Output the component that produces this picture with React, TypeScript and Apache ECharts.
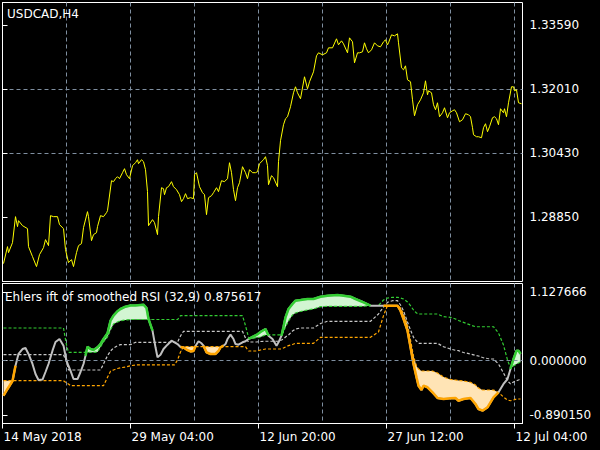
import { useEffect, useRef } from "react";
import * as echarts from "echarts";

// ---- price panel (USDCAD H4), x = bar index ----
const priceBar = [
  1, 5, 6, 10, 13, 15, 16, 20, 25, 26, 30, 34, 37, 41, 43, 46, 48, 51, 55, 57,
  61, 63, 66, 69, 71, 74, 76, 79, 81, 85, 86, 89, 91, 94, 95, 98, 101, 104, 105, 109,
  111, 113, 115, 117, 120, 122, 124, 127, 130, 133, 135, 136, 139, 141, 143, 145, 146, 150, 152, 155,
  156, 159, 161, 162, 164, 166, 169, 171, 174, 177, 179, 181, 183, 185, 188, 191, 192, 194, 197, 200,
  202, 204, 206, 209, 211, 214, 216, 219, 222, 225, 227, 229, 231, 233, 235, 237, 240, 243, 245, 247,
  250, 253, 255, 257, 261, 263, 265, 266, 269, 271, 275, 276, 278, 281, 283, 285, 288, 291, 293, 295,
  298, 302, 305, 307, 311, 314, 316, 320, 324, 326, 330, 334, 336, 339, 341, 345, 347, 350, 352, 355,
  357, 360, 362, 364, 366, 369, 372, 375, 378, 381, 383, 385, 386, 389, 392, 395, 396, 399, 401, 403,
  405, 408, 410, 412, 415, 418, 421, 423, 425, 426, 429, 431, 433, 435, 437, 440, 442, 445, 447, 450,
  452, 454, 457, 460, 463, 466, 468, 470, 471, 474, 476, 479, 481, 483, 485, 487, 490, 492, 494, 496,
  498, 501, 502, 504, 506, 509, 511, 512, 514, 516, 519,
];
const priceVal = [
  1.27711, 1.28129, 1.27981, 1.28227, 1.28867, 1.28621, 1.28768, 1.28645, 1.28572, 1.28129,
  1.27883, 1.27637, 1.27932, 1.28104, 1.28301, 1.28153, 1.28891, 1.28867, 1.28867, 1.2867,
  1.28572, 1.28055, 1.27735, 1.27809, 1.27637, 1.27981, 1.28153, 1.28203, 1.28596, 1.2899,
  1.28867, 1.28276, 1.28424, 1.28473, 1.28621, 1.28891, 1.28867, 1.28965, 1.29014, 1.29752,
  1.29728, 1.29802, 1.29851, 1.29802, 1.29949, 1.30048, 1.299, 1.29802, 1.30121, 1.30195,
  1.30269, 1.30171, 1.30269, 1.3022, 1.30023, 1.29482, 1.28645, 1.28793, 1.28719, 1.28424,
  1.28867, 1.2958, 1.29556, 1.29408, 1.2958, 1.29605, 1.29728, 1.29605, 1.29531, 1.29408,
  1.29236, 1.2931, 1.29433, 1.2931, 1.29334, 1.2931, 1.299, 1.29949, 1.29605, 1.29457,
  1.29408, 1.28916, 1.29334, 1.29383, 1.29457, 1.2958, 1.29482, 1.29752, 1.29728, 1.29802,
  1.30195, 1.29949, 1.29531, 1.2926, 1.2958, 1.29703, 1.30097, 1.29949, 1.29802, 1.30023,
  1.29949, 1.29949, 1.29974, 1.30171, 1.30269, 1.30343, 1.30121, 1.29654, 1.29875, 1.29826,
  1.29605, 1.3022, 1.30736, 1.3113, 1.31278, 1.31327, 1.31573, 1.31917, 1.32065, 1.31917,
  1.3177, 1.32311, 1.32016, 1.32188, 1.32434, 1.32827, 1.32901, 1.32852, 1.32901, 1.33024,
  1.33024, 1.33246, 1.33098, 1.33196, 1.33123, 1.32901, 1.3327, 1.33172, 1.32655, 1.32901,
  1.32901, 1.32926, 1.33147, 1.33, 1.32901, 1.32975, 1.33147, 1.33073, 1.33049, 1.33172,
  1.33221, 1.33098, 1.33147, 1.33344, 1.33319, 1.33369, 1.33147, 1.32532, 1.32483, 1.32581,
  1.32237, 1.32188, 1.31745, 1.31351, 1.31622, 1.31745, 1.31917, 1.32212, 1.31868, 1.31966,
  1.31917, 1.31622, 1.31499, 1.31671, 1.31327, 1.31425, 1.31548, 1.31302, 1.31425, 1.31474,
  1.31499, 1.31425, 1.31204, 1.31253, 1.31401, 1.31376, 1.31327, 1.31056, 1.30884, 1.30835,
  1.30835, 1.3081, 1.31056, 1.31155, 1.30958, 1.31081, 1.31302, 1.31327, 1.31278, 1.3113,
  1.31524, 1.31425, 1.31524, 1.31327, 1.31671, 1.32065, 1.32065, 1.31966, 1.31991, 1.31671,
  1.31647,
];

// ---- indicator panel ----
const indBar = [
  1, 5, 10, 13, 16, 20, 23, 26, 30, 33,
  36, 40, 43, 46, 50, 53, 57, 61, 64, 66,
  68, 71, 75, 78, 81, 83, 85, 88, 91, 95,
  98, 101, 105, 108, 111, 115, 118, 123, 128, 133,
  138, 141, 144, 146, 150, 153, 155, 158, 161, 165,
  169, 172, 175, 178, 181, 184, 188, 191, 193, 196,
  199, 201, 204, 208, 213, 216, 218, 221, 223, 225,
  228, 231, 233, 236, 240, 243, 246, 250, 254, 258,
  263, 266, 270, 274, 276, 279, 281, 283, 286, 290,
  293, 298, 305, 311, 318, 325, 335, 341, 348, 353,
  361, 368, 376, 381, 385, 390, 395, 398, 401, 405,
  408, 411, 414, 416, 419, 421, 425, 430, 435, 441,
  448, 453, 456, 461, 468, 473, 476, 480, 485, 488,
  491, 496, 501, 505, 508, 511, 514, 516, 518,
];
const indMain = [
  -0.573, -0.463, -0.332, -0.082, 0.11, 0.191, 0.208, 0.11, -0.054, -0.218,
  -0.316, -0.308, -0.185, -0.054, 0.164, 0.306, 0.355, 0.246, 0, -0.087,
  -0.164, -0.3, -0.3, -0.185, -0.054, 0.082, 0.229, 0.191, 0.175, 0.219,
  0.273, 0.355, 0.448, 0.655, 0.737, 0.809, 0.846, 0.884, 0.903, 0.903,
  0.912, 0.917, 0.863, 0.683, 0.491, 0.219, 0.056, 0.098, 0.191, 0.262,
  0.327, 0.301, 0.273, 0.224, 0.216, 0.183, 0.151, 0.159, 0.241, 0.318,
  0.285, 0.246, 0.137, 0.11, 0.11, 0.159, 0.219, 0.246, 0.273, 0.355,
  0.426, 0.355, 0.273, 0.262, 0.301, 0.318, 0.355, 0.388, 0.421, 0.47,
  0.519, 0.409, 0.355, 0.246, 0.301, 0.409, 0.556, 0.71, 0.846, 0.928,
  0.982, 0.993, 1.01, 1.01, 1.047, 1.064, 1.075, 1.064, 1.047, 1.01,
  0.956, 0.9, 0.9, 0.9, 0.9, 0.9, 0.9, 0.818, 0.683, 0.491,
  0.219, -0.054, -0.272, -0.409, -0.48, -0.409, -0.435, -0.517, -0.61, -0.627,
  -0.615, -0.61, -0.655, -0.627, -0.61, -0.709, -0.791, -0.818, -0.763, -0.681,
  -0.599, -0.517, -0.381, -0.3, -0.136, 0.028, 0.164, 0.164, 0.11,
];
const indUpper = [
  0.535, 0.535, 0.535, 0.535, 0.535, 0.535, 0.535, 0.535, 0.535, 0.535,
  0.535, 0.535, 0.535, 0.535, 0.535, 0.535, 0.535, 0.535, 0.257, 0.137,
  0.137, 0.137, 0.137, 0.137, 0.137, 0.137, 0.137, 0.137, 0.137, 0.142,
  0.224, 0.306, 0.388, 0.502, 0.601, 0.633, 0.655, 0.666, 0.674, 0.674,
  0.674, 0.674, 0.674, 0.674, 0.674, 0.674, 0.674, 0.674, 0.674, 0.674,
  0.674, 0.674, 0.674, 0.737, 0.737, 0.737, 0.737, 0.737, 0.737, 0.737,
  0.737, 0.737, 0.737, 0.737, 0.737, 0.737, 0.737, 0.737, 0.737, 0.737,
  0.737, 0.737, 0.737, 0.737, 0.737, 0.573, 0.383, 0.363, 0.38, 0.388,
  0.421, 0.421, 0.421, 0.421, 0.421, 0.421, 0.47, 0.552, 0.65, 0.748,
  0.781, 0.805, 0.83, 0.846, 0.884, 0.89, 0.89, 0.89, 0.89, 0.89,
  0.89, 0.903, 0.903, 0.993, 1.026, 1.038, 1.038, 1.026, 1.01, 0.961,
  0.9, 0.83, 0.781, 0.764, 0.764, 0.764, 0.764, 0.764, 0.764, 0.72,
  0.71, 0.683, 0.658, 0.628, 0.584, 0.556, 0.556, 0.556, 0.556, 0.556,
  0.556, 0.453, 0.257, 0.011, -0.119, -0.087, -0.054, -0.038, -0.021,
];
const indMid = [
  0.098, 0.098, 0.098, 0.098, 0.098, 0.098, 0.098, 0.098, 0.098, 0.098,
  0.098, 0.098, 0.098, 0.098, 0.098, 0.098, 0.098, 0.098, -0.021, -0.152,
  -0.152, -0.152, -0.152, -0.152, -0.152, -0.152, -0.152, -0.152, -0.152, -0.152,
  -0.152, -0.054, 0.082, 0.159, 0.208, 0.246, 0.262, 0.262, 0.262, 0.301,
  0.301, 0.301, 0.301, 0.301, 0.301, 0.301, 0.301, 0.301, 0.301, 0.301,
  0.301, 0.301, 0.301, 0.404, 0.481, 0.481, 0.481, 0.481, 0.481, 0.481,
  0.481, 0.481, 0.481, 0.481, 0.481, 0.481, 0.481, 0.481, 0.481, 0.481,
  0.481, 0.481, 0.481, 0.481, 0.481, 0.372, 0.306, 0.306, 0.306, 0.314,
  0.318, 0.318, 0.318, 0.318, 0.318, 0.339, 0.355, 0.388, 0.421, 0.486,
  0.519, 0.535, 0.535, 0.535, 0.609, 0.645, 0.645, 0.645, 0.645, 0.645,
  0.645, 0.645, 0.764, 0.879, 0.956, 0.982, 0.982, 0.912, 0.818, 0.633,
  0.502, 0.383, 0.322, 0.285, 0.285, 0.285, 0.285, 0.285, 0.285, 0.229,
  0.191, 0.17, 0.164, 0.134, 0.11, 0.088, 0.077, 0.052, 0.036, 0.028,
  0.028, -0.054, -0.201, -0.327, -0.381, -0.349, -0.327, -0.316, -0.3,
];
const indLower = [
  -0.327, -0.327, -0.327, -0.327, -0.327, -0.327, -0.327, -0.327, -0.327, -0.327,
  -0.327, -0.327, -0.327, -0.327, -0.327, -0.327, -0.327, -0.327, -0.365, -0.381,
  -0.409, -0.409, -0.409, -0.409, -0.409, -0.409, -0.409, -0.409, -0.409, -0.409,
  -0.409, -0.409, -0.272, -0.173, -0.152, -0.128, -0.115, -0.103, -0.082, -0.07,
  -0.07, -0.07, -0.07, -0.07, -0.07, -0.07, -0.07, -0.07, -0.07, -0.07,
  -0.07, -0.07, 0.011, 0.142, 0.229, 0.229, 0.229, 0.229, 0.229, 0.229,
  0.229, 0.229, 0.229, 0.229, 0.229, 0.229, 0.229, 0.229, 0.229, 0.229,
  0.229, 0.229, 0.229, 0.229, 0.229, 0.229, 0.159, 0.159, 0.159, 0.175,
  0.191, 0.191, 0.191, 0.191, 0.191, 0.191, 0.208, 0.224, 0.246, 0.265,
  0.285, 0.285, 0.285, 0.285, 0.383, 0.383, 0.383, 0.383, 0.383, 0.383,
  0.383, 0.383, 0.47, 0.737, 0.903, 0.903, 0.903, 0.863, 0.764, 0.584,
  0.339, 0.077, -0.087, -0.136, -0.169, -0.169, -0.169, -0.169, -0.201, -0.267,
  -0.308, -0.316, -0.324, -0.332, -0.354, -0.398, -0.447, -0.48, -0.48, -0.48,
  -0.48, -0.52, -0.594, -0.643, -0.655, -0.643, -0.627, -0.627, -0.627,
];

// ---- ticks and texts ----
const priceTicks = [1.2885, 1.3043, 1.3201, 1.3359];
const indTicks = [-0.89015, 0, 1.127666];
const timeTicks = [0, 128, 256, 384, 512];
const timeLabels = ["14 May 2018", "29 May 04:00", "12 Jun 20:00", "27 Jun 12:00", "12 Jul 04:00"];
const symbolTitle = "USDCAD,H4";
const indTitle = "Ehlers ift of smoothed RSI (32,9) 0.875617";

const FONT = "DejaVu Sans";
const GRID_COLOR = "#7f8fa0";
const GREEN = "#32cd32";
const ORANGE = "#ffa500";

export default function App() {
  const ref = useRef<HTMLDivElement>(null);

  useEffect(() => {
    const chart = echarts.init(ref.current as HTMLDivElement, null, { renderer: "svg" });
    const pair = (xs: number[], ys: (number | null)[]) => xs.map((x, i) => [x, ys[i]]);
    const n = indBar.length;
    const isG = (i: number) => i >= 0 && i < n && indMain[i] > indUpper[i];
    const isO = (i: number) => i >= 0 && i < n && indMain[i] < indLower[i];
    const greenLine = indMain.map((m, i) => (isG(i) || isG(i - 1) || isG(i + 1) ? m : null));
    const orangeLine = indMain.map((m, i) => (isO(i) || isO(i - 1) || isO(i + 1) ? m : null));

    const fillSeries = (color: string, top: (i: number) => number, base: number[]) => ({
      type: "custom",
      xAxisIndex: 1,
      yAxisIndex: 1,
      silent: true,
      data: [[indBar[0], indMain[0]]],
      renderItem: (_p: any, api: any) => {
        const upperPts = indBar.map((b, i) => api.coord([b, top(i)]));
        const basePts = indBar.map((b, i) => api.coord([b, base[i]])).reverse();
        return {
          type: "polygon",
          shape: { points: upperPts.concat(basePts) },
          style: { fill: color, stroke: null },
        };
      },
    });

    const splitDashed = {
      show: true,
      showMinLine: false,
      showMaxLine: false,
      lineStyle: { color: GRID_COLOR, width: 1, type: [4, 3] },
    };
    const dashedLevel = (data: number[], color: string) => ({
      type: "line",
      xAxisIndex: 1,
      yAxisIndex: 1,
      data: pair(indBar, data),
      symbol: "none",
      silent: true,
      lineStyle: { color, width: 1.2, type: [3, 2] },
    });

    chart.setOption({
      animation: false,
      backgroundColor: "#000000",
      textStyle: { fontFamily: FONT },
      grid: [
        { left: 2.5, top: 2.5, width: 520, height: 279, show: true, borderColor: "#ffffff", borderWidth: 1, backgroundColor: "transparent", outerBoundsMode: "none" },
        { left: 2.5, top: 283.5, width: 520, height: 140, show: true, borderColor: "#ffffff", borderWidth: 1, backgroundColor: "transparent", outerBoundsMode: "none" },
      ],
      xAxis: [
        { gridIndex: 0, type: "value", min: 0, max: 520, interval: 64, axisLine: { show: false }, axisTick: { show: false }, axisLabel: { show: false }, splitLine: splitDashed },
        { gridIndex: 1, type: "value", min: 0, max: 520, interval: 64, axisLine: { show: false }, axisTick: { show: false }, axisLabel: { show: false }, splitLine: splitDashed },
        {
          gridIndex: 1,
          type: "value",
          position: "bottom",
          min: 0,
          max: 520,
          axisLine: { show: true, lineStyle: { color: "#ffffff", width: 1 } },
          axisTick: { show: true, customValues: timeTicks, length: 5, lineStyle: { color: "#ffffff" } },
          axisLabel: {
            show: true,
            customValues: timeTicks,
            color: "#ffffff",
            fontSize: 12,
            fontFamily: FONT,
            align: "left",
            margin: 7,
            padding: [0, 0, 0, 1],
            formatter: (v: number) => {
              const k = timeTicks.indexOf(Math.round(v));
              return k >= 0 ? timeLabels[k] : "";
            },
          },
          splitLine: { show: false },
        },
      ],
      yAxis: [
        {
          gridIndex: 0,
          type: "value",
          position: "right",
          min: 1.2727,
          max: 1.3414,
          interval: 0.0158,
          axisLine: { show: true, lineStyle: { color: "#ffffff", width: 1 } },
          axisTick: { show: true, customValues: priceTicks, length: 5, lineStyle: { color: "#ffffff" } },
          axisLabel: { show: true, customValues: priceTicks, color: "#ffffff", fontSize: 12, fontFamily: FONT, margin: 7, formatter: (v: number) => v.toFixed(5) },
          splitLine: { ...splitDashed },
        },
        {
          gridIndex: 1,
          type: "value",
          position: "right",
          min: -1.028,
          max: 1.2635,
          axisLine: { show: true, lineStyle: { color: "#ffffff", width: 1 } },
          axisTick: { show: true, customValues: indTicks, length: 5, lineStyle: { color: "#ffffff" } },
          axisLabel: { show: true, customValues: indTicks, color: "#ffffff", fontSize: 12, fontFamily: FONT, margin: 7, formatter: (v: number) => v.toFixed(6) },
          splitLine: { show: false },
        },
      ],
      series: [
        {
          type: "line",
          xAxisIndex: 0,
          yAxisIndex: 0,
          data: pair(priceBar, priceVal),
          symbol: "none",
          silent: true,
          lineStyle: { color: "#ffff00", width: 1 },
        },
        fillSeries("#d2f5d2", (i) => Math.max(indMain[i], indUpper[i]), indUpper),
        fillSeries("#ffe4b5", (i) => Math.min(indMain[i], indLower[i]), indLower),
        {
          ...dashedLevel(indMid, "#c8c8c8"),
          markLine: {
            silent: true,
            symbol: ["none", "none"],
            label: { show: false },
            lineStyle: { color: GRID_COLOR, width: 1, type: [4, 3] },
            data: [{ yAxis: 0 }],
          },
        },
        dashedLevel(indUpper, GREEN),
        dashedLevel(indLower, ORANGE),
        {
          type: "line",
          xAxisIndex: 1,
          yAxisIndex: 1,
          data: pair(indBar, indMain),
          symbol: "none",
          silent: true,
          lineStyle: { color: "#c0c0c0", width: 2 },
        },
        {
          type: "line",
          xAxisIndex: 1,
          yAxisIndex: 1,
          data: pair(indBar, greenLine),
          symbol: "none",
          silent: true,
          lineStyle: { color: GREEN, width: 2.5 },
        },
        {
          type: "line",
          xAxisIndex: 1,
          yAxisIndex: 1,
          data: pair(indBar, orangeLine),
          symbol: "none",
          silent: true,
          lineStyle: { color: ORANGE, width: 2.5 },
        },
      ],
      graphic: [
        { type: "text", x: 7, y: 13.5, z: 100, style: { text: symbolTitle, fill: "#ffffff", fontSize: 12, fontFamily: FONT, verticalAlign: "middle" } },
        { type: "text", x: 5, y: 297, z: 100, style: { text: indTitle, fill: "#ffffff", fontSize: 12, fontFamily: FONT, verticalAlign: "middle" } },
      ],
    });

    return () => chart.dispose();
  }, []);

  return <div ref={ref} style={{ position: "fixed", left: 0, top: 0, width: 600, height: 450 }} />;
}
